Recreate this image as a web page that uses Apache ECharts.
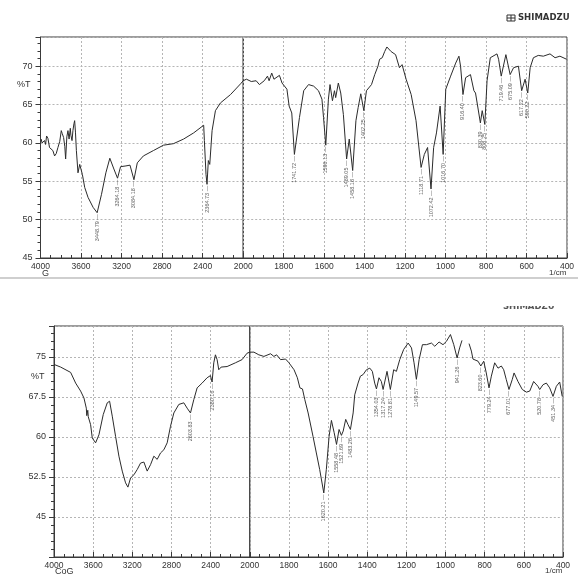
<!DOCTYPE html>
<html><head><meta charset="utf-8">
<script src="https://cdn.jsdelivr.net/npm/echarts@6/dist/echarts.min.js"></script>
<style>html,body{margin:0;padding:0;background:#fff}#c{width:582px;height:579px}</style>
</head><body><div id="c"></div>
<script>
// ---------- Spectrum G (top) ----------
const topWn = [3993,3985,3960,3950,3940,3927,3911,3895,3878,3861,3845,3828,3810,3795,3785,3772,3760,3752,3740,3729,3718,3706,3700,3689,3680,3670,3663,3655,3646,3630,3613,3587,3564,3531,3481,3441,3398,3355,3316,3276,3240,3210,3157,3117,3078,3045,2985,2886,2787,2688,2588,2489,2390,2383,2367,2357,2344,2330,2307,2274,2225,2125,2026,2000,
  1984,1960,1936,1920,1896,1880,1872,1859,1848,1821,1808,1784,1773,1760,1747,1722,1701,1677,1652,1628,1611,1603,1592,1579,1571,1559,1549,1543,1530,1518,1505,1489,1476,1459,1443,1432,1419,1404,1391,1366,1350,1334,1326,1313,1301,1290,1269,1247,1228,1215,1195,1170,1146,1121,1105,1089,1072,1059,1045,1027,1012,999,975,950,934,926,914,901,877,860,852,828,819,806,795,779,746,738,725,702,681,664,640,624,607,594,582,566,542,517,484,459,435,402];
const topT = [60.5,60.0,60.3,59.8,60.9,60.6,59.4,59.6,59.0,58.3,58.6,59.4,60.2,61.6,61.2,60.7,59.5,57.9,60.8,61.6,60.5,61.9,61.0,60.3,61.6,62.5,62.9,61.4,59.0,56.1,57.2,55.9,54.2,52.9,51.6,50.9,53.3,56.1,58.0,56.6,55.4,56.9,57.0,57.1,55.2,57.4,58.3,59.0,59.7,59.9,60.5,61.3,62.3,60.3,55.9,54.6,57.7,57.2,61.6,64.2,65.2,66.3,67.7,68.1,
  68.3,68.0,68.1,67.6,68.1,68.7,68.1,69.1,68.3,68.8,67.8,67.0,64.8,63.9,58.5,63.3,66.8,67.6,67.4,66.8,65.7,63.3,59.7,65.7,67.6,65.5,66.8,65.9,67.8,66.5,63.7,57.9,60.5,56.4,62.9,64.6,66.4,64.2,66.8,67.6,68.9,70.0,70.9,71.1,71.9,72.5,71.9,71.5,69.8,70.2,68.3,66.3,62.9,56.8,58.5,59.4,54.0,59.4,61.3,64.8,58.5,67.0,68.7,70.4,71.3,70.0,66.3,68.5,68.9,66.8,66.5,62.6,64.2,62.4,68.1,71.1,71.6,70.9,68.7,71.5,68.9,69.8,70.0,66.8,68.3,66.5,69.8,71.1,71.4,71.3,71.6,71.1,71.3,70.9];
const topPeakWn = [3441,3240,3078,2357,1747,1592,1489,1459,1404,1121,1072,1012,914,828,806,725,681,624,594];
const topPeakT = [50.9,55.4,55.2,54.6,58.5,59.7,57.9,56.4,64.2,56.8,54.0,58.5,66.3,62.6,62.4,68.7,68.9,66.8,66.5];
const topPeakText = ['3448.79','3264.18','3084.18','2364.73','1741.72','1596.13','1489.05','1458.18','1402.25','1118.71','1072.42','1016.70','916.40','830.39','808.25','719.46','675.09','617.22','590.22'];

// ---------- Spectrum CoG (bottom) ----------
const botWn = [4000,3932,3830,3779,3728,3694,3670,3665,3660,3655,3650,3643,3626,3609,3575,3541,3497,3456,3432,3405,3371,3337,3303,3269,3245,3218,3184,3150,3116,3082,3048,3014,2980,2946,2912,2878,2844,2810,2776,2725,2674,2640,2606,2572,2538,2487,2436,2402,2385,2368,2351,2334,2317,2293,2232,2147,2079,2028,2000,
  1979,1954,1928,1894,1877,1863,1843,1817,1800,1774,1757,1744,1731,1719,1702,1677,1660,1643,1622,1609,1595,1583,1569,1557,1544,1532,1523,1510,1498,1486,1472,1464,1447,1435,1421,1404,1387,1374,1362,1353,1340,1328,1319,1299,1282,1265,1251,1234,1214,1191,1174,1161,1149,1135,1118,1098,1072,1055,1033,1013,996,975,958,941,928,916,898,880,868,860,834,820,805,792,778,766,749,732,715,703,690,676,659,650,630,608,587,570,550,528,519,502,485,468,451,434,417,404];
const botT = [73.6,73.1,72.1,70.1,68.6,67.3,65.4,64.0,64.5,65.0,63.8,63.6,62.3,59.8,58.9,60.4,64.2,66.4,66.7,63.9,60.1,56.4,53.6,51.4,50.6,52.3,52.9,53.9,55.1,55.3,53.6,54.8,56.4,55.8,57.0,57.6,58.9,62.0,64.5,66.1,66.4,65.4,64.5,67.0,69.2,70.1,71.1,71.5,70.3,73.9,75.4,74.5,72.6,73.1,73.2,73.9,74.5,75.7,75.9,
  75.9,75.4,75.1,75.6,75.1,75.4,74.5,74.6,73.9,72.6,71.1,69.2,69.0,67.0,64.5,60.1,57.0,53.9,49.5,53.9,60.1,63.1,60.8,58.6,61.4,60.3,61.1,63.3,62.3,61.4,64.5,67.9,70.1,71.4,71.7,72.6,72.9,72.3,70.1,69.0,71.1,70.4,68.9,72.3,68.9,72.6,72.3,74.5,76.4,77.6,76.7,73.9,70.8,74.5,77.3,77.3,77.6,77.0,77.8,77.3,77.9,79.2,77.3,74.8,76.7,78.1,null,77.5,76.1,74.6,74.2,73.3,74.2,72.0,69.2,71.4,73.9,72.9,73.3,72.6,70.8,68.9,70.8,72.0,70.4,68.9,68.4,68.6,70.4,69.5,68.9,69.8,70.1,69.2,67.6,69.5,70.3,67.6];
const botPeakWn = [2606,2385,1622,1557,1532,1486,1353,1319,1282,1149,941,820,778,676,519,451];
const botPeakT = [64.5,70.3,49.5,58.6,60.3,61.4,69.0,68.9,68.9,70.8,74.8,73.3,69.2,68.9,68.9,67.6];
const botPeakText = ['2603.83','2380.16','1620.21','1558.48','1521.69','1483.26','1354.03','1317.24','1278.81','1149.57','941.26','823.60','779.24','677.01','520.78','451.34'];

// ---------- axis ticks ----------
const hiTicks = {min:2000, max:4000, interval:400};
const loTicks = {min:400, max:2000, interval:200};
const topY = {min:45, max:73.8, interval:5};
const botY = {min:37.5, max:80.8, interval:7.5};

const FONT = 'Liberation Sans';
const INK = '#2b2b2b';

function pairs(wn, t, hi){
  const out = [];
  for (let i=0;i<wn.length;i++){
    if (hi ? wn[i] >= 2000 : wn[i] <= 2000) out.push([wn[i], t[i]]);
  }
  return out;
}
function peaks(wn, t, txt, hi){
  const out = [];
  for (let i=0;i<wn.length;i++){
    if (hi ? wn[i] >= 2000 : wn[i] < 2000) out.push([wn[i], t[i], txt[i]]);
  }
  return out;
}

const grids = [
  {left:40.5, top:37, width:202.7, height:221},
  {left:243.2, top:37, width:323.8, height:221},
  {left:54, top:326, width:195.8, height:231},
  {left:249.8, top:326, width:313.2, height:231}
].map(g => Object.assign({show:true, borderColor:'#3a3a3a', borderWidth:1, backgroundColor:'transparent'}, g));

function xAxis(idx, ticks, hideVal){
  return {
    type:'value', gridIndex:idx, inverse:true, min:ticks.min, max:ticks.max, interval:ticks.interval,
    axisLine:{show:true, lineStyle:{color:'#3a3a3a', width:1}},
    axisTick:{show:true, inside:true, length:5, lineStyle:{color:'#3a3a3a'}},
    minorTick:{show:true, splitNumber:4, length:3, lineStyle:{color:'#3a3a3a'}},
    splitLine:{show:true, lineStyle:{color:'#b5b5b5', type:[2,2], width:1}},
    axisLabel:{show:true, margin:4, fontSize:8.5, color:'#333', fontFamily:FONT, showMinLabel:true, showMaxLabel:true,
      formatter: v => (v===hideVal ? '' : String(v))}
  };
}
function yAxis(idx, yr, showLabels){
  return {
    type:'value', gridIndex:idx, min:yr.min, max:yr.max, interval:yr.interval,
    axisLine:{show:showLabels, lineStyle:{color:'#3a3a3a', width:1}},
    axisTick:{show:showLabels, length:5, lineStyle:{color:'#3a3a3a'}},
    minorTick:{show:showLabels, splitNumber:5, length:3, lineStyle:{color:'#3a3a3a'}},
    splitLine:{show:true, lineStyle:{color:'#b5b5b5', type:[2,2], width:1}},
    axisLabel:{show:showLabels, margin:8, fontSize:9, color:'#333', fontFamily:FONT, showMaxLabel:false,
      formatter: v => {
        const k = (v - yr.min) / yr.interval;
        if (Math.abs(k - Math.round(k)) > 1e-6) return '';
        if (yr.min === 37.5 && v === 37.5) return '';
        return String(v);
      }}
  };
}

function lineSeries(data, xi){
  return {type:'line', xAxisIndex:xi, yAxisIndex:xi, data:data, showSymbol:false, symbol:'none',
    connectNulls:false, lineStyle:{color:INK, width:1}, silent:true, animation:false, z:3};
}
function labelSeries(data, xi){
  return {type:'scatter', xAxisIndex:xi, yAxisIndex:xi, data:data, symbolSize:1,
    itemStyle:{color:'rgba(0,0,0,0)'}, silent:true, animation:false, z:4,
    label:{show:true, position:'bottom', distance:1, rotate:90, align:'right', verticalAlign:'middle',
      fontSize:5.5, color:'#333', fontFamily:FONT, formatter: p => p.data[2] + ' —'}};
}

const graphic = [
  {type:'text', left:17, top:80, style:{text:'%T', fontSize:9, fill:'#333', fontFamily:FONT}},
  {type:'text', left:42, top:269, style:{text:'G', fontSize:9, fill:'#333', fontFamily:FONT}},
  {type:'text', left:549, top:269, style:{text:'1/cm', fontSize:8, fill:'#333', fontFamily:FONT}},
  {type:'text', left:31, top:372, style:{text:'%T', fontSize:9, fill:'#333', fontFamily:FONT}},
  {type:'text', left:55, top:567, style:{text:'CoG', fontSize:9, fill:'#333', fontFamily:FONT}},
  {type:'text', left:545, top:567, style:{text:'1/cm', fontSize:8, fill:'#333', fontFamily:FONT}},
  // Shimadzu logo (top)
  {type:'rect', shape:{x:507, y:15, width:8, height:6}, style:{fill:'#fff', stroke:'#333', lineWidth:1}},
  {type:'line', shape:{x1:511, y1:15, x2:511, y2:21}, style:{stroke:'#333', lineWidth:1}},
  {type:'line', shape:{x1:507, y1:18, x2:515, y2:18}, style:{stroke:'#333', lineWidth:1}},
  {type:'text', x:518, y:13, style:{text:'SHIMADZU', fontSize:8.5, fontWeight:'bold', fill:'#333', fontFamily:'DejaVu Sans'}},
  // Shimadzu logo (bottom, cut off)
  {type:'text', x:503, y:302, z:1, style:{text:'SHIMADZU', fontSize:8.5, fontWeight:'bold', fill:'#555', fontFamily:'DejaVu Sans'}},
  {type:'rect', z:2, shape:{x:498, y:296, width:80, height:10}, style:{fill:'#fff'}},
  // separator
  {type:'line', shape:{x1:0, y1:278, x2:578, y2:278}, style:{stroke:'#cfcfcf', lineWidth:2}}
];

const chart = echarts.init(document.getElementById('c'), null, {renderer:'canvas'});
chart.setOption({
  animation:false,
  backgroundColor:'#fff',
  grid: grids,
  xAxis: [xAxis(0, hiTicks, 2000), xAxis(1, loTicks, null), xAxis(2, hiTicks, 2000), xAxis(3, loTicks, null)],
  yAxis: [yAxis(0, topY, true), yAxis(1, topY, false), yAxis(2, botY, true), yAxis(3, botY, false)],
  series: [
    lineSeries(pairs(topWn, topT, true), 0),
    lineSeries(pairs(topWn, topT, false), 1),
    lineSeries(pairs(botWn, botT, true), 2),
    lineSeries(pairs(botWn, botT, false), 3),
    labelSeries(peaks(topPeakWn, topPeakT, topPeakText, true), 0),
    labelSeries(peaks(topPeakWn, topPeakT, topPeakText, false), 1),
    labelSeries(peaks(botPeakWn, botPeakT, botPeakText, true), 2),
    labelSeries(peaks(botPeakWn, botPeakT, botPeakText, false), 3)
  ],
  graphic: graphic
});
</script></body></html>
